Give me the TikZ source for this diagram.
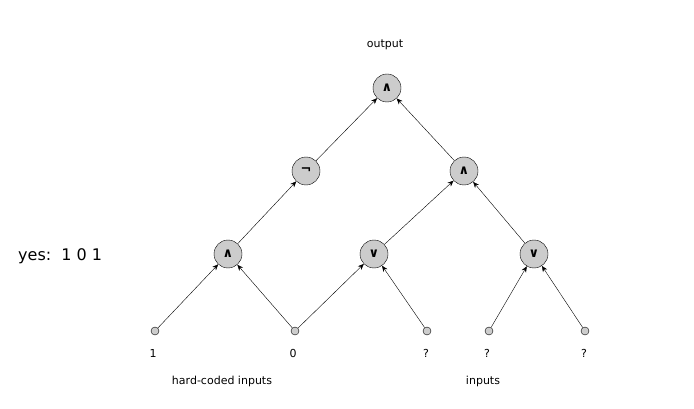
\documentclass[tikz,border=0pt]{standalone}
\usepackage{fontspec}
\setmainfont{DejaVu Sans}
\usetikzlibrary{arrows.meta}
\definecolor{gatefill}{RGB}{204,204,204}
\begin{document}
\begin{tikzpicture}[x=1pt,y=-1pt,
  gate/.style={circle,draw,fill=gatefill,minimum size=28pt,inner sep=0pt,font=\fontsize{13}{15}\selectfont\bfseries},
  pin/.style={circle,draw,fill=gatefill,minimum size=8pt,inner sep=0pt},
  lbl/.style={font=\fontsize{11}{13}\selectfont},
  wire/.style={-{Stealth[length=6pt,width=5pt]},thin}]
\useasboundingbox (0,0) rectangle (694,409);
\node[gate] (out) at (387,88) {∧};
\node[gate] (neg) at (306,171) {¬};
\node[gate] (rand) at (464,171) {∧};
\node[gate] (land) at (228,254) {∧};
\node[gate] (mor) at (374,254) {∨};
\node[gate] (ror) at (534,254) {∨};
\node[pin] (i1) at (155,331) {};
\node[pin] (i2) at (295,331) {};
\node[pin] (i3) at (427,331) {};
\node[pin] (i4) at (489,331) {};
\node[pin] (i5) at (585,331) {};
\node[lbl] (t1) at (153,353) {1};
\node[lbl] (t2) at (293,353) {0};
\node[lbl] (t3) at (426,353) {?};
\node[lbl] (t4) at (487,353) {?};
\node[lbl] (t5) at (584,353) {?};
\node[lbl] (toutput) at (385,45) {output};
\node[lbl] (thc) at (222,381) {hard-coded inputs};
\node[lbl] (tin) at (483,381) {inputs};
\node[font=\fontsize{16}{18}\selectfont,anchor=west,inner sep=0pt] (yes) at (18,256) {yes:\ \ 1 0 1};
\draw[wire] (i1) -- (land);
\draw[wire] (i2) -- (land);
\draw[wire] (i2) -- (mor);
\draw[wire] (i3) -- (mor);
\draw[wire] (i4) -- (ror);
\draw[wire] (i5) -- (ror);
\draw[wire] (land) -- (neg);
\draw[wire] (neg) -- (out);
\draw[wire] (mor) -- (rand);
\draw[wire] (ror) -- (rand);
\draw[wire] (rand) -- (out);
\end{tikzpicture}
\end{document}
